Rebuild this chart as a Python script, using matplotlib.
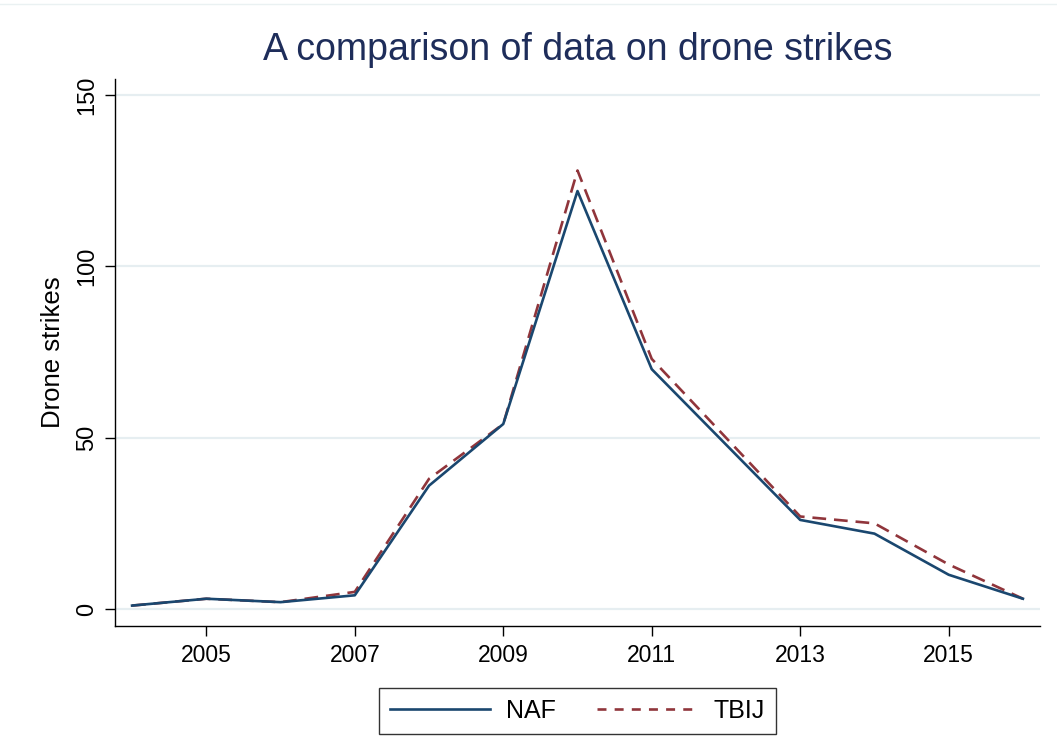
import matplotlib
matplotlib.use("Agg")
import matplotlib.pyplot as plt
from matplotlib.lines import Line2D

plt.rcParams['font.family'] = ['Liberation Sans', 'DejaVu Sans']

years = [2004, 2005, 2006, 2007, 2008, 2009, 2010, 2011, 2012, 2013, 2014, 2015, 2016]
naf = [1, 3, 2, 4, 36, 54, 122, 70, 48, 26, 22, 10, 3]
tbij = [1, 3, 2, 5, 38, 54, 128, 73, 50, 27, 25, 13, 3]
xticks = [2005, 2007, 2009, 2011, 2013, 2015]
yticks = [0, 50, 100, 150]

W, H = 1057, 736
fig = plt.figure(figsize=(W / 100, H / 100), dpi=100)
ax = fig.add_axes([115 / W, (H - 626) / H, (1040 - 115) / W, (626 - 79) / H])

navy = '#1a476f'
maroon = '#90353b'

for y in yticks:
    ax.axhline(y, color='#e6eef1', lw=1.6, zorder=0)

ax.plot(years, naf, color=navy, lw=1.9, label='NAF', zorder=3)
ax.plot(years, tbij, color=maroon, lw=1.9, dashes=(5.2, 3.0), label='TBIJ', zorder=2)

ax.set_xlim(2003.77, 2016.23)
ax.set_ylim(-4.96, 154.7)
ax.set_xticks(xticks)
ax.set_xticklabels([str(t) for t in xticks])
ax.set_yticks(yticks)
ax.set_yticklabels([str(t) for t in yticks], rotation=90, va='center')

for s in ['top', 'right']:
    ax.spines[s].set_visible(False)
for s in ['left', 'bottom']:
    ax.spines[s].set_linewidth(1.0)
    ax.spines[s].set_color('black')

ax.tick_params(axis='both', direction='out', length=7, width=1.0, colors='black')
ax.tick_params(axis='x', pad=6, labelsize=16.5)
ax.tick_params(axis='y', pad=5, labelsize=17)

ax.set_ylabel('Drone strikes', fontsize=18.5, labelpad=8)
fig.text(577.5 / W, 1 - 50 / H, 'A comparison of data on drone strikes',
         ha='center', va='center', fontsize=27, color='#1e2d5a')

h1 = Line2D([], [], color=navy, lw=1.9)
h2 = Line2D([], [], color=maroon, lw=1.9, dashes=(3.4, 3.1))
leg = fig.legend([h1, h2], ['NAF', 'TBIJ'], loc='center',
                 bbox_to_anchor=(577.5 / W, 1 - 711 / H), ncol=2,
                 fontsize=18, frameon=True, fancybox=False, edgecolor='black',
                 handlelength=4.0, columnspacing=1.65, handletextpad=0.65,
                 borderpad=0.45, borderaxespad=0.0)
leg.get_frame().set_linewidth(1.0)

fig.add_artist(Line2D([0, 1], [1 - 4 / H, 1 - 4 / H], color='#eaf1f2', lw=1.0))

fig.savefig('out.png', dpi=100, facecolor='white')
